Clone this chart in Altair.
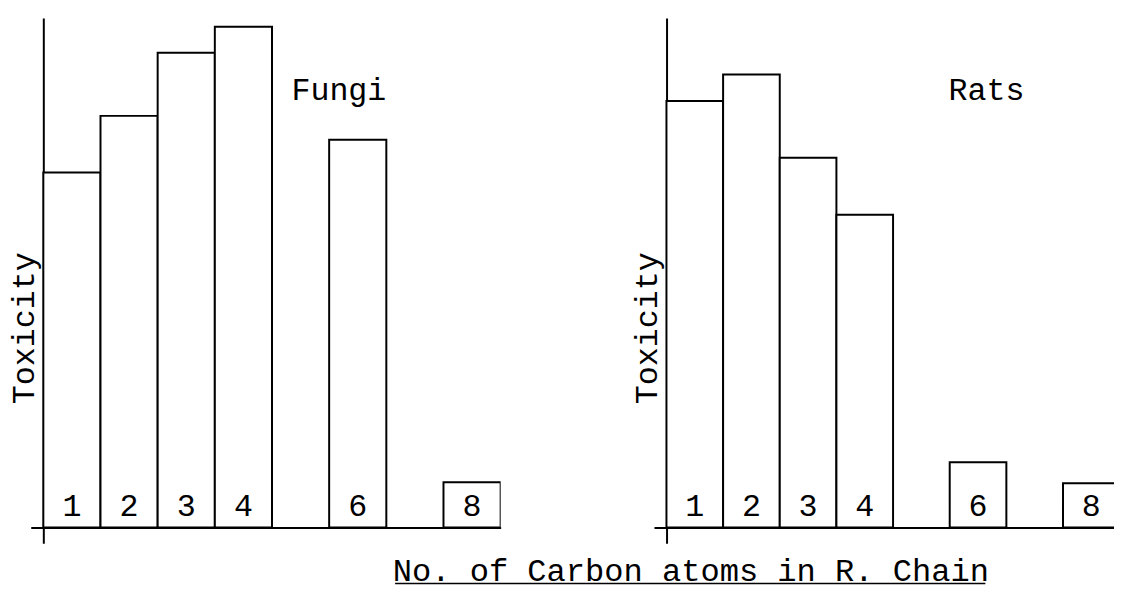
import altair as alt
import pandas as pd

# ---- data ----
carbons = [1, 2, 3, 4, 6, 8]
fungi_toxicity = [69.7, 80.8, 93.2, 98.3, 76.1, 8.9]
rats_toxicity = [83.7, 88.9, 72.6, 61.4, 12.8, 8.7]
panel_names = ["Fungi", "Rats"]
panel_label_x = [5.67, 6.15]
panel_label_y = [84, 84]
y_title = "Toxicity"
x_title = "No. of Carbon atoms in R. Chain"

FONT = "Liberation Mono"
FS = 32
Y_DOMAIN = [-3.1, 100]
HEIGHT = 531


def panel(values, name, lx, ly, width, x_max, with_xtitle):
    df = pd.DataFrame({"carbons": carbons, "toxicity": values})
    base = alt.Chart(df).transform_calculate(
        x0="datum.carbons - 0.5", x1="datum.carbons + 0.5", zero="0"
    )
    xscale = alt.Scale(domain=[0.28, x_max], nice=False, zero=False)
    yscale = alt.Scale(domain=Y_DOMAIN, nice=False, zero=False)
    xaxis = alt.Axis(
        domain=True, domainColor="black", domainWidth=2, offset=-16,
        ticks=False, labels=False, grid=False, title=None,
    )
    yaxis = alt.Axis(
        domain=True, domainColor="black", domainWidth=2, offset=-12.7,
        ticks=False, labels=False, grid=False,
        title=y_title, titleAngle=270, titleX=-9.7, titleY=313,
        titleAlign="center", titleBaseline="alphabetic",
        titleFont=FONT, titleFontSize=FS, titleFontWeight="normal",
        titleColor="black",
    )

    bars = base.mark_bar(
        fill="white", stroke="black", strokeWidth=2, clip=True
    ).encode(
        x=alt.X("x0:Q", scale=xscale, axis=xaxis),
        x2="x1:Q",
        y=alt.Y("toxicity:Q", scale=yscale, axis=yaxis),
        y2="zero:Q",
    )

    nums = base.mark_text(
        font=FONT, fontSize=FS, color="black", baseline="alphabetic", dy=-12
    ).encode(
        x=alt.X("carbons:Q", scale=xscale, axis=xaxis),
        y=alt.Y("zero:Q", scale=yscale, axis=yaxis),
        text=alt.Text("carbons:Q"),
    )

    lab_df = pd.DataFrame({"name": [name], "x": [lx], "y": [ly]})
    lab = alt.Chart(lab_df).mark_text(
        font=FONT, fontSize=FS, color="black", baseline="alphabetic", align="center"
    ).encode(
        x=alt.X("x:Q", scale=xscale, axis=xaxis),
        y=alt.Y("y:Q", scale=yscale, axis=yaxis),
        text="name:N",
    )

    layers = [bars, nums, lab]
    if with_xtitle:
        t_df = pd.DataFrame({"t": [x_title], "x": [0.93], "y": [-10.5],
                             "ux0": [-4.29], "ux1": [6.13], "uy": [-11.0]})
        t = alt.Chart(t_df).mark_text(
            font=FONT, fontSize=32.4, color="black", baseline="alphabetic", align="center"
        ).encode(
            x=alt.X("x:Q", scale=xscale, axis=xaxis),
            y=alt.Y("y:Q", scale=yscale, axis=yaxis),
            text="t:N",
        )
        u = alt.Chart(t_df).mark_rule(color="black", strokeWidth=1.5).encode(
            x=alt.X("ux0:Q", scale=xscale, axis=xaxis),
            x2="ux1:Q",
            y=alt.Y("uy:Q", scale=yscale, axis=yaxis),
        )
        layers += [t, u]
    return alt.layer(*layers).properties(width=width, height=HEIGHT)


left = panel(fungi_toxicity, panel_names[0], panel_label_x[0], panel_label_y[0], 475, 8.5, False)
right = panel(rats_toxicity, panel_names[1], panel_label_x[1], panel_label_y[1], 465, 8.40, True)

chart = alt.hconcat(left, right, spacing=155, bounds="flush").properties(
    padding={"left": 0, "top": 7, "right": 0, "bottom": 0},
    background="white",
).configure_view(stroke=None)

chart.save("out.html", embed_options={"renderer": "svg", "actions": False})
